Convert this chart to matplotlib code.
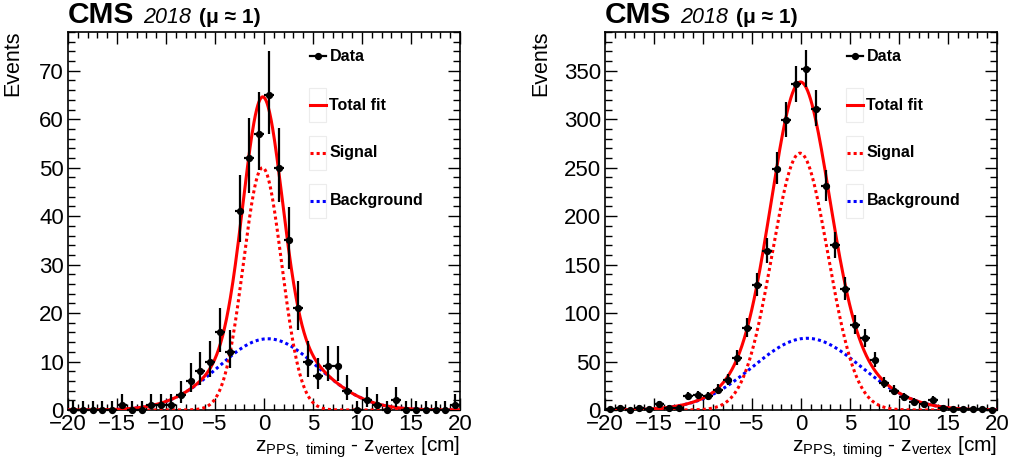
import numpy as np
import matplotlib
matplotlib.use('Agg')
import matplotlib.pyplot as plt
from matplotlib.patches import Rectangle
from matplotlib.lines import Line2D
from matplotlib.ticker import MultipleLocator, FuncFormatter

plt.rcParams['font.family'] = ['Liberation Sans', 'DejaVu Sans']
plt.rcParams['mathtext.fontset'] = 'custom'
plt.rcParams['mathtext.rm'] = 'Liberation Sans'
plt.rcParams['mathtext.it'] = 'Liberation Sans:italic'
plt.rcParams['mathtext.bf'] = 'Liberation Sans:bold'

# ---------------- data ----------------
x_min, x_max, n_bins = -20.0, 20.0, 40

counts_left = [0, 0, 0, 0, 0, 1, 0, 0, 1, 1,
               1, 3, 6, 8, 10, 16, 12, 41, 52, 57,
               65, 50, 35, 21, 10, 7, 9, 9, 4, 0,
               2, 1, 0, 2, 0, 0, 0, 0, 0, 1]

counts_right = [1, 2, 0, 2, 1, 6, 2, 2, 14, 15,
                14, 21, 31, 54, 85, 129, 164, 249, 299, 336,
                352, 311, 231, 170, 125, 88, 74, 52, 28, 20,
                13, 8, 6, 10, 2, 1, 1, 1, 1, 0]

# fit components: (amplitude, mean, sigma)
signal_left = (50.0, -0.15, 1.95)
background_left = (14.7, 0.4, 5.05)
signal_right = (265.0, -0.1, 2.85)
background_right = (74.0, 0.6, 5.5)

ylim_left = 78
ylim_right = 390
ymajor_left, yminor_left = 10, 2
ymajor_right, yminor_right = 50, 10

legend_labels = ['Data', 'Total fit', 'Signal', 'Background']

# ---------------- helpers ----------------
def gauss(x, p):
    a, m, s = p
    return a * np.exp(-0.5 * ((x - m) / s) ** 2)


def poisson_errors(n):
    n = np.asarray(n, dtype=float)
    up = np.sqrt(n + 0.75) + 1.0
    low = np.zeros_like(n)
    nz = n > 0
    nn = n[nz]
    low[nz] = nn - nn * (1 - 1 / (9 * nn) - 1 / (3 * np.sqrt(nn))) ** 3
    return low, up


W, H = 1010, 465
fig = plt.figure(figsize=(W / 100, H / 100), dpi=100)


def px_axes(x0, x1, y0, y1):
    return fig.add_axes([x0 / W, 1 - y1 / H, (x1 - x0) / W, (y1 - y0) / H])


minus_fmt = FuncFormatter(lambda v, p: ('%g' % v).replace('-', '\u2212'))


def draw_panel(ax, counts, sig, bkg, ymax, ymaj, ymin, events_off):
    edges = np.linspace(x_min, x_max, n_bins + 1)
    centers = 0.5 * (edges[1:] + edges[:-1])
    counts = np.asarray(counts, dtype=float)
    lo, up = poisson_errors(counts)
    xs = np.linspace(x_min, x_max, 800)
    s = gauss(xs, sig)
    b = gauss(xs, bkg)
    ax.plot(xs, b, color='#0000ff', lw=2.2, ls=(0, (1.0, 1.0)), zorder=3)
    ax.plot(xs, s, color='#ff0000', lw=2.2, ls=(0, (1.0, 1.0)), zorder=3)
    ax.plot(xs, s + b, color='#ff0000', lw=2.2, zorder=4)
    ax.errorbar(centers, counts, yerr=[lo, up], xerr=0.5, fmt='o', color='black',
                ms=4.2, elinewidth=1.6, capsize=0, zorder=5, clip_on=False)

    ax.set_xlim(x_min, x_max)
    ax.set_ylim(0, ymax)
    ax.xaxis.set_major_locator(MultipleLocator(5))
    ax.xaxis.set_minor_locator(MultipleLocator(1))
    ax.yaxis.set_major_locator(MultipleLocator(ymaj))
    ax.yaxis.set_minor_locator(MultipleLocator(ymin))
    ax.xaxis.set_major_formatter(minus_fmt)
    ax.tick_params(which='both', direction='in', top=True, right=True,
                   labelsize=16, width=1.0, colors='black')
    ax.tick_params(axis='x', which='major', length=8.5, pad=3)
    ax.tick_params(axis='x', which='minor', length=4.3)
    ax.tick_params(axis='y', which='major', length=8.5, pad=3)
    ax.tick_params(axis='y', which='minor', length=4.8)
    for sp in ax.spines.values():
        sp.set_linewidth(1.2)

    ax.text(1.0, -0.111, r'$\mathrm{z_{PPS,\ timing}}$ - $\mathrm{z_{vertex}}$ [cm]',
            transform=ax.transAxes, ha='right', va='baseline', fontsize=15)
    ax.text(events_off, 1.005, 'Events', transform=ax.transAxes, rotation=90,
            ha='center', va='top', fontsize=15.5)

    # legend
    lx0, lx1, tx = 0.617, 0.658, 0.667
    ys = [0.9365, 0.8056, 0.680, 0.5537]
    ax.add_line(Line2D([lx0, lx1], [ys[0], ys[0]], color='black', lw=1.6,
                       transform=ax.transAxes, zorder=6))
    ax.add_line(Line2D([(lx0 + lx1) / 2], [ys[0]], marker='o', ms=4.2, color='black',
                       transform=ax.transAxes, zorder=6))
    styles = [dict(color='#ff0000', lw=2.2),
              dict(color='#ff0000', lw=2.2, ls=(0, (1.0, 1.0))),
              dict(color='#0000ff', lw=2.2, ls=(0, (1.0, 1.0)))]
    bw = 17.4 / 392
    bh = 34 / 378
    for y, st in zip(ys[1:], styles):
        ax.add_patch(Rectangle((0.6137, y - bh / 2), bw, bh, transform=ax.transAxes,
                               fill=False, ec='#ececec', lw=0.8, zorder=5))
        ax.add_line(Line2D([lx0, lx1], [y, y], transform=ax.transAxes, zorder=6, **st))
    for y, lab in zip(ys, legend_labels):
        ax.text(tx, y, lab, transform=ax.transAxes, ha='left', va='center',
                fontsize=11.5, fontweight='bold', zorder=6)


axL = px_axes(68, 460, 32, 410)
axR = px_axes(605, 997, 32, 410)
draw_panel(axL, counts_left, signal_left, background_left, ylim_left,
           ymajor_left, yminor_left, -0.14)
draw_panel(axR, counts_right, signal_right, background_right, ylim_right,
           ymajor_right, yminor_right, -0.165)

for x0 in (68, 605):
    fig.text(x0 / W, 1 - 23 / H, 'CMS', fontsize=21.5, fontweight='bold', va='baseline')
    fig.text((x0 + 75) / W, 1 - 23 / H, '2018', fontsize=15.5, style='italic', va='baseline')
    fig.text((x0 + 131) / W, 1 - 23 / H, '(\u03bc \u2248 1)', fontsize=15,
             fontweight='bold', va='baseline')

fig.savefig('out.png', dpi=100)
